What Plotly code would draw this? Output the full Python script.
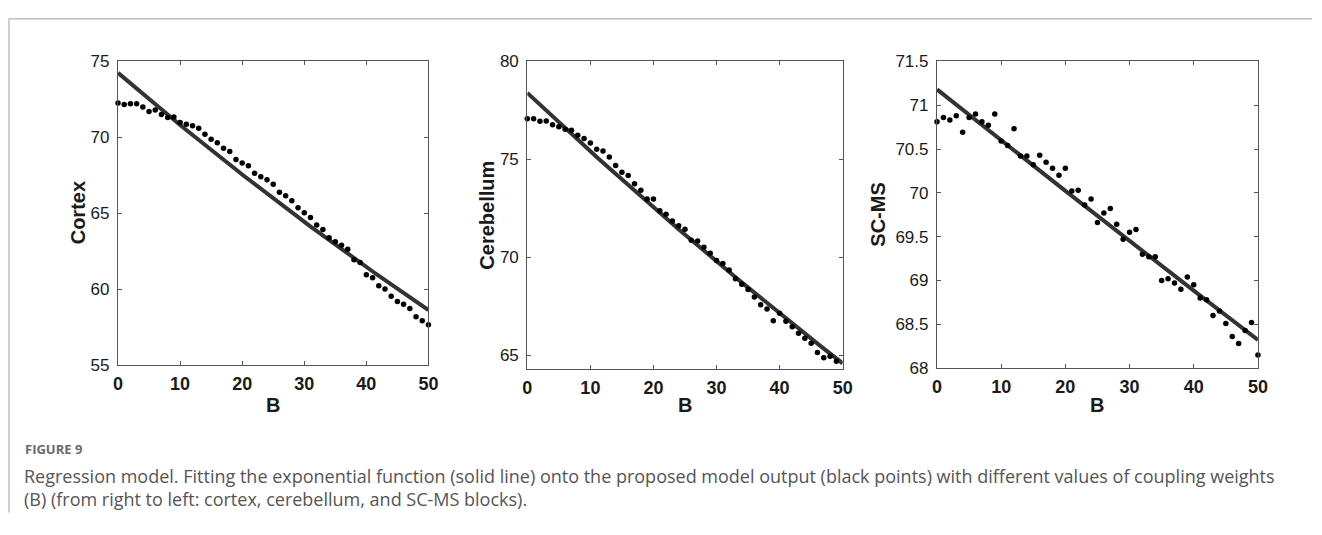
import numpy as np
import plotly.graph_objects as go

# Coupling weight values shared by all three panels
B = list(range(0, 51))

# Model output per block (black points)
cortex = [72.26, 72.15, 72.2, 72.2, 72.0, 71.7, 71.8, 71.5, 71.3, 71.34,
          70.98, 70.85, 70.75, 70.6, 70.2, 69.87, 69.64, 69.27, 69.06, 68.53,
          68.3, 68.12, 67.63, 67.4, 67.2, 66.9, 66.38, 66.14, 65.82, 65.35,
          65.03, 64.71, 64.22, 63.92, 63.37, 63.11, 62.88, 62.62, 61.92, 61.75,
          60.94, 60.75, 60.21, 60.0, 59.53, 59.17, 59.0, 58.72, 58.17, 57.91,
          57.65]
cerebellum = [77.07, 77.07, 76.94, 76.96, 76.76, 76.66, 76.53, 76.48, 76.23, 76.07,
              75.84, 75.51, 75.43, 75.12, 74.69, 74.34, 74.18, 73.75, 73.42, 72.98,
              72.98, 72.38, 72.2, 71.86, 71.61, 71.43, 70.87, 70.84, 70.51, 70.21,
              69.84, 69.69, 69.36, 68.91, 68.63, 68.36, 67.98, 67.58, 67.37, 66.76,
              67.15, 66.74, 66.46, 66.13, 65.87, 65.61, 65.15, 64.87, 64.95, 64.7,
              64.29]
scms = [70.81, 70.86, 70.83, 70.88, 70.69, 70.86, 70.90, 70.81, 70.77, 70.90,
        70.59, 70.54, 70.73, 70.42, 70.42, 70.32, 70.43, 70.35, 70.28, 70.20,
        70.28, 70.02, 70.03, 69.86, 69.93, 69.66, 69.77, 69.82, 69.64, 69.47,
        69.55, 69.58, 69.30, 69.27, 69.27, 69.00, 69.02, 68.97, 68.90, 69.04,
        68.95, 68.80, 68.78, 68.60, 68.65, 68.51, 68.36, 68.28, 68.43, 68.52,
        68.15]

# Exponential fit parameters y = a * exp(b * B)
fit_a = {"cortex": 74.24, "cerebellum": 78.39, "scms": 71.18}
fit_b = {"cortex": -0.004727, "cerebellum": -0.003873, "scms": -0.00082}

y_titles = ["Cortex", "Cerebellum", "SC-MS"]
y_ranges = [[55, 75], [64.3, 80], [68, 71.5]]
y_tickvals = [[55, 60, 65, 70, 75], [65, 70, 75, 80],
              [68, 68.5, 69, 69.5, 70, 70.5, 71, 71.5]]
y_ticktext = [["55", "60", "65", "70", "75"], ["65", "70", "75", "80"],
              ["68", "68.5", "69", "69.5", "70", "70.5", "71", "71.5"]]
x_ticks = [0, 10, 20, 30, 40, 50]

caption_head = "FIGURE 9"
caption_body = ("Regression model. Fitting the exponential function (solid line) onto the proposed "
                "model output (black points) with different values of coupling weights<br>"
                "(B) (from right to left: cortex, cerebellum, and SC-MS blocks).")

W, H = 1322, 535
# Panel boxes in pixels: (left, right, top, bottom)
boxes = [(114.3, 428.3, 54.3, 369.0),
         (528.3, 847.3, 54.3, 373.3),
         (942.7, 1267.3, 54.3, 372.3)]
title_x = [74, 488, 883]

series = [cortex, cerebellum, scms]
keys = ["cortex", "cerebellum", "scms"]

font_family = "Liberation Sans, Arial"

fig = go.Figure()
b_fine = np.linspace(0, 50, 201)
for i, (vals, key) in enumerate(zip(series, keys)):
    xa = "x" if i == 0 else f"x{i+1}"
    ya = "y" if i == 0 else f"y{i+1}"
    fit = fit_a[key] * np.exp(fit_b[key] * b_fine)
    fig.add_trace(go.Scatter(x=b_fine, y=fit, mode="lines",
                             line=dict(color="#333333", width=4),
                             xaxis=xa, yaxis=ya, showlegend=False))
    fig.add_trace(go.Scatter(x=B, y=vals, mode="markers",
                             marker=dict(color="#000000", size=5.5),
                             xaxis=xa, yaxis=ya, showlegend=False, cliponaxis=False))

layout = dict(width=W, height=H, margin=dict(l=0, r=0, t=0, b=0),
              paper_bgcolor="white", plot_bgcolor="white", showlegend=False)

axis_line = "#555555"
for i, (l, r, t, b) in enumerate(boxes):
    sx = "xaxis" if i == 0 else f"xaxis{i+1}"
    sy = "yaxis" if i == 0 else f"yaxis{i+1}"
    anchor_x = "y" if i == 0 else f"y{i+1}"
    anchor_y = "x" if i == 0 else f"x{i+1}"
    layout[sx] = dict(domain=[l / W, r / W], anchor=anchor_x, range=[0, 50],
                      tickvals=x_ticks, ticks="inside", ticklen=4, tickcolor=axis_line,
                      showline=True, linecolor=axis_line, linewidth=1.2, mirror="ticks",
                      showgrid=False, zeroline=False, ticklabelstandoff=2,
                      tickfont=dict(family=font_family, size=18, color="#1a1a1a", weight="bold"))
    layout[sy] = dict(domain=[1 - b / H, 1 - t / H], anchor=anchor_y, range=y_ranges[i],
                      tickvals=y_tickvals[i], ticktext=y_ticktext[i],
                      ticks="inside", ticklen=4, tickcolor=axis_line,
                      showline=True, linecolor=axis_line, linewidth=1.2, mirror="ticks",
                      showgrid=False, zeroline=False, ticklabelstandoff=4,
                      tickfont=dict(family=font_family, size=17, color="#1a1a1a"))

fig.update_layout(**layout)

annotations = []
for i, (l, r, t, b) in enumerate(boxes):
    annotations.append(dict(text="<b>" + y_titles[i] + "</b>", x=title_x[i] / W,
                            y=1 - ((t + b) / 2) / H, xref="paper", yref="paper",
                            textangle=-90, showarrow=False, xanchor="center", yanchor="middle",
                            font=dict(family=font_family, size=20, color="#1a1a1a")))
    annotations.append(dict(text="<b>B</b>", x=((l + r) / 2) / W, y=1 - 411 / H,
                            xref="paper", yref="paper", showarrow=False,
                            xanchor="center", yanchor="middle",
                            font=dict(family=font_family, size=20, color="#1a1a1a")))

annotations.append(dict(text=caption_head, x=18 / W, y=1 - 456 / H, xref="paper", yref="paper",
                        showarrow=False, xanchor="left", yanchor="middle",
                        font=dict(family="Open Sans", size=13, color="#6a6a6a", weight="bold")))
annotations.append(dict(text=caption_body, x=17 / W, y=1 - 496 / H, xref="paper", yref="paper",
                        showarrow=False, xanchor="left", yanchor="middle", align="left",
                        font=dict(family="Open Sans", size=18, color="#555555")))
fig.update_layout(annotations=annotations)

# Page frame: thin rule along the top and left edge
fig.add_shape(type="line", xref="paper", yref="paper", x0=4 / W, x1=1, y0=1 - 10 / H, y1=1 - 10 / H,
              line=dict(color="#c0c0c0", width=1.5))
fig.add_shape(type="line", xref="paper", yref="paper", x0=4 / W, x1=4 / W, y0=1 - 522 / H, y1=1 - 10 / H,
              line=dict(color="#c0c0c0", width=1.5))

fig.write_html("out.html")
